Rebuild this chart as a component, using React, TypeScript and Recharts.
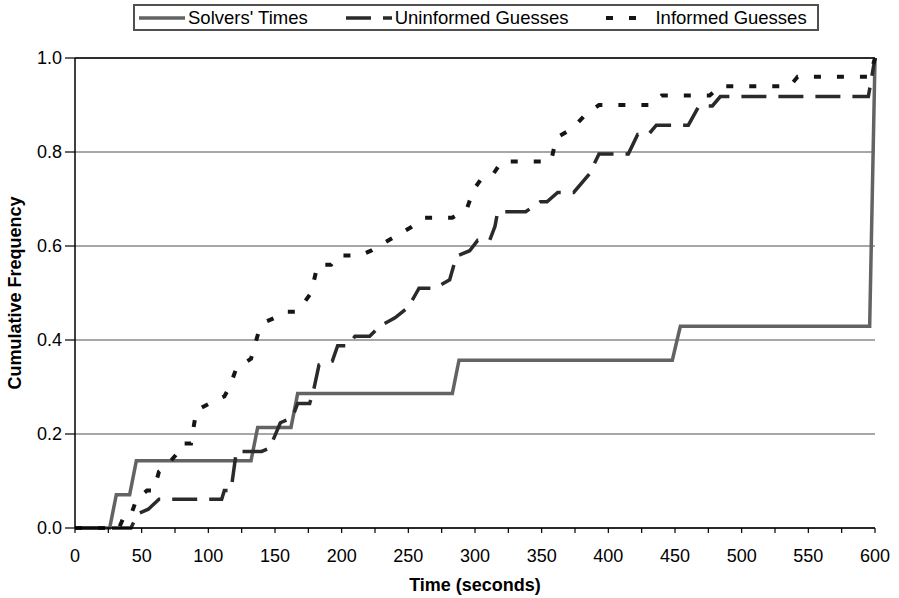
import { CartesianGrid, Label, Legend, Line, LineChart, ReferenceLine, XAxis, YAxis } from 'recharts';

// [time in seconds, cumulative frequency] corners
const SOLVERS_TIMES: [number, number][] = [
  [0, 0], [26, 0], [31, 0.071], [41, 0.071], [46, 0.143], [132, 0.143], [137, 0.214],
  [162, 0.214], [167, 0.286], [283, 0.286], [288, 0.357], [448, 0.357], [454, 0.429],
  [596, 0.429], [600, 1.0],
];

const UNINFORMED_GUESSES: [number, number][] = [
  [0, 0], [42, 0], [47, 0.03], [55, 0.04], [63, 0.061], [110, 0.061], [112, 0.08], [117, 0.08],
  [121, 0.163], [140, 0.163], [146, 0.17], [154, 0.224], [163, 0.235], [167, 0.265], [176, 0.265],
  [179, 0.294], [183, 0.347], [193, 0.355], [197, 0.388], [205, 0.388], [210, 0.408], [221, 0.408],
  [229, 0.43], [240, 0.447], [250, 0.47], [256, 0.5], [258, 0.51], [270, 0.51], [281, 0.528],
  [286, 0.578], [296, 0.59], [302, 0.612], [311, 0.612], [315, 0.642], [317, 0.673], [338, 0.673],
  [349, 0.694], [354, 0.694], [362, 0.714], [374, 0.714], [386, 0.754], [393, 0.796], [415, 0.796],
  [422, 0.837], [430, 0.837], [436, 0.857], [460, 0.857], [468, 0.898], [478, 0.898], [484, 0.918],
  [595, 0.918], [600, 1.0],
];

const INFORMED_GUESSES: [number, number][] = [
  [0, 0], [33, 0], [36, 0.02], [41, 0.02], [46, 0.06], [54, 0.08], [59, 0.08], [63, 0.12],
  [71, 0.14], [77, 0.16], [80, 0.18], [87, 0.18], [91, 0.25], [104, 0.27], [112, 0.28], [116, 0.3],
  [121, 0.34], [132, 0.36], [134, 0.38], [138, 0.42], [144, 0.44], [152, 0.45], [158, 0.46],
  [166, 0.46], [172, 0.48], [177, 0.5], [182, 0.56], [192, 0.56], [197, 0.58], [214, 0.58],
  [222, 0.59], [228, 0.6], [240, 0.62], [252, 0.64], [262, 0.66], [283, 0.66], [294, 0.68],
  [299, 0.72], [304, 0.74], [313, 0.75], [320, 0.78], [357, 0.78], [361, 0.83], [373, 0.85],
  [383, 0.88], [393, 0.9], [432, 0.9], [440, 0.92], [476, 0.92], [484, 0.94], [536, 0.94],
  [542, 0.96], [596, 0.96], [600, 1.0],
];

const X_TICKS = [
  0, 25, 50, 75, 100, 125, 150, 175, 200, 225, 250, 275, 300, 325, 350, 375, 400, 425, 450, 475,
  500, 525, 550, 575, 600,
];
const Y_TICKS = [0, 0.2, 0.4, 0.6, 0.8, 1.0];

const SERIES = [
  { key: 'solvers', name: "Solvers' Times", data: SOLVERS_TIMES, color: '#636363', width: 3.5, dash: undefined },
  { key: 'uninformed', name: 'Uninformed Guesses', data: UNINFORMED_GUESSES, color: '#2a2a2a', width: 3.5, dash: '25 12' },
  { key: 'informed', name: 'Informed Guesses', data: INFORMED_GUESSES, color: '#151515', width: 4, dash: '7 16' },
];

const FONT = '"Liberation Sans", Arial, Helvetica, sans-serif';

const toPoints = (pairs: [number, number][]) => pairs.map(([time, freq]) => ({ time, freq }));

function LegendBox() {
  return (
    <div
      style={{
        display: 'inline-flex',
        alignItems: 'center',
        border: '2px solid #505050',
        height: 23,
        padding: '0 4px',
        background: '#fff',
        fontFamily: FONT,
        fontSize: 18.5,
        color: '#000',
      }}
    >
      {SERIES.map((s, i) => (
        <div key={s.key} style={{ display: 'flex', alignItems: 'center', marginRight: i < SERIES.length - 1 ? 38 : 6 }}>
          <svg width={46} height={10}>
            <line x1={0} x2={46} y1={5} y2={5} stroke={s.color} strokeWidth={s.width} strokeDasharray={s.dash} />
          </svg>
          <span style={{ marginLeft: 3, whiteSpace: 'nowrap' }}>{s.name}</span>
        </div>
      ))}
    </div>
  );
}

function YTitle({ viewBox }: any) {
  const cx = (viewBox?.x ?? 0) + 15;
  const cy = (viewBox?.y ?? 58) + (viewBox?.height ?? 470) / 2;
  return (
    <text
      x={cx}
      y={cy}
      transform={`rotate(-90 ${cx} ${cy})`}
      textAnchor="middle"
      dominantBaseline="central"
      fontSize={18}
      fontWeight="bold"
      fontFamily={FONT}
      fill="#000"
    >
      Cumulative Frequency
    </text>
  );
}

function XTitle({ viewBox }: any) {
  const cx = (viewBox?.x ?? 75) + (viewBox?.width ?? 800) / 2;
  const y = (viewBox?.y ?? 528) + (viewBox?.height ?? 70) - 7;
  return (
    <text x={cx} y={y} textAnchor="middle" fontSize={18} fontWeight="bold" fontFamily={FONT} fill="#000">
      Time (seconds)
    </text>
  );
}

export default function App() {
  return (
    <div style={{ position: 'absolute', left: 0, top: 0, width: 899, height: 598, background: '#fff', fontFamily: FONT }}>
      <LineChart width={899} height={598} margin={{ top: 58, right: 24, bottom: 0, left: 0 }}>
        <CartesianGrid vertical={false} stroke="#8a8a8a" strokeWidth={1.5} />
        <XAxis
          dataKey="time"
          type="number"
          domain={[0, 600]}
          ticks={X_TICKS}
          interval={0}
          height={70}
          tickSize={5}
          tickMargin={16}
          tick={{ fontSize: 18, fill: '#000', fontFamily: FONT }}
          tickFormatter={(v: number) => (v % 50 === 0 ? String(v) : '')}
          axisLine={{ stroke: '#000', strokeWidth: 1.5 }}
          tickLine={{ stroke: '#000', strokeWidth: 1.2 }}
          allowDuplicatedCategory={false}
        >
          <Label content={<XTitle />} />
        </XAxis>
        <YAxis
          type="number"
          domain={[0, 1]}
          ticks={Y_TICKS}
          interval={0}
          width={75}
          tickSize={10}
          tickMargin={3}
          tick={{ fontSize: 18, fill: '#000', fontFamily: FONT }}
          tickFormatter={(v: number) => v.toFixed(1)}
          axisLine={{ stroke: '#000', strokeWidth: 1.5 }}
          tickLine={{ stroke: '#000', strokeWidth: 1.2 }}
        >
          <Label content={<YTitle />} />
        </YAxis>
        <ReferenceLine y={1} stroke="#2e2e2e" strokeWidth={2} />
        <Legend
          layout="horizontal"
          verticalAlign="middle"
          align="center"
          wrapperStyle={{ top: 4, left: 133, width: 'auto' }}
          content={() => <LegendBox />}
        />
        {SERIES.map((s) => (
          <Line
            key={s.key}
            data={toPoints(s.data)}
            dataKey="freq"
            name={s.name}
            type="linear"
            stroke={s.color}
            strokeWidth={s.width}
            strokeDasharray={s.dash}
            strokeLinecap="butt"
            strokeLinejoin="miter"
            dot={false}
            activeDot={false}
            isAnimationActive={false}
          />
        ))}
      </LineChart>
    </div>
  );
}
